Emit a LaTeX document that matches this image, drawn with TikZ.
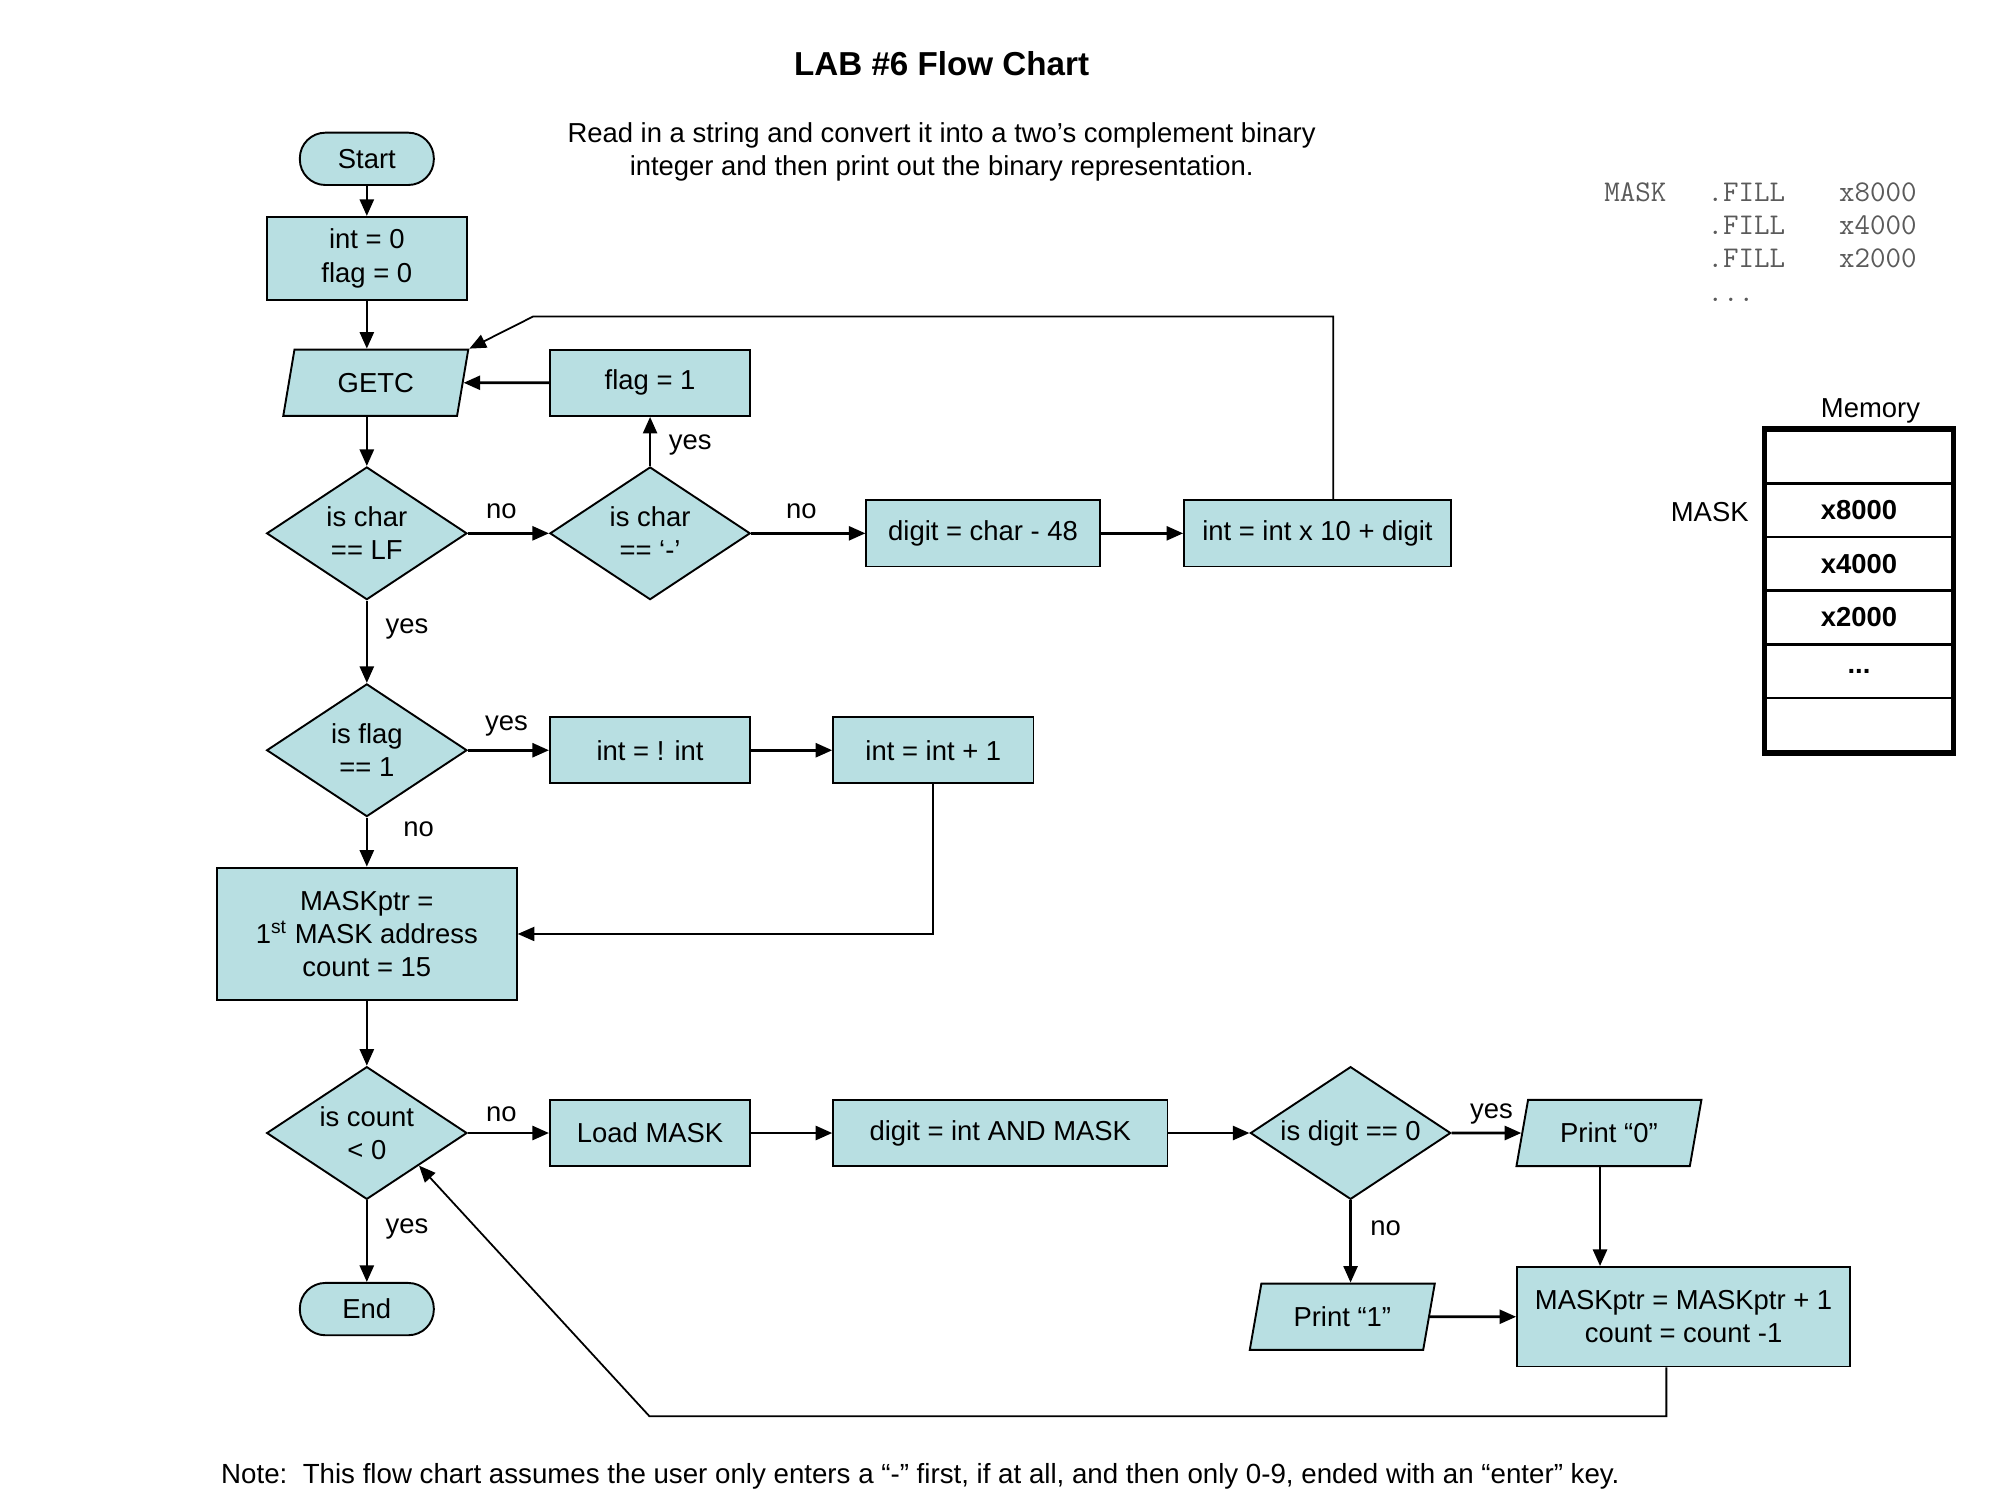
\documentclass[tikz,border=0pt]{standalone}
\usepackage{fontspec}
\setmainfont{Liberation Sans}
\usetikzlibrary{shapes.geometric,arrows.meta,calc}
\definecolor{boxfill}{RGB}{184,223,226}
\definecolor{codegray}{RGB}{90,90,90}
\begin{document}
\begin{tikzpicture}[x=0.5pt,y=-0.5pt,font=\fontsize{10.75}{13}\selectfont,
  base/.style={draw=black,fill=boxfill,line width=0.75pt,align=center,inner sep=0pt},
  proc/.style={base,rectangle},
  term/.style={base,rectangle,rounded corners=10pt,minimum width=52.5pt,minimum height=20.5pt},
  decn/.style={base,diamond,shape aspect=1.5,minimum width=78.5pt,minimum height=52pt},
  io/.style={base,trapezium,trapezium left angle=60,trapezium right angle=120,trapezium stretches body=true,minimum width=72.5pt,minimum height=26pt},
  arr/.style={-{Triangle[length=6.5pt,width=5.5pt]},line width=1pt},
  thinline/.style={line width=0.7pt},
  lbl/.style={inner sep=0pt},
  code/.style={anchor=base west,inner sep=0pt,font=\ttfamily\fontsize{11.8}{13}\selectfont,text=codegray},
  cell/.style={draw=black,line width=1pt,rectangle,minimum width=73pt,minimum height=21pt,inner sep=0pt,font=\bfseries\fontsize{10.75}{13}\selectfont}
]
\useasboundingbox (0,0) rectangle (1567.5,1175.6);

% title and description
\node[font=\bfseries\fontsize{13}{16}\selectfont] (title) at (738,50) {LAB \#6 Flow Chart};
\node[align=center] (desc) at (738,119) {Read in a string and convert it into a two’s complement binary\\integer and then print out the binary representation.};
\node[anchor=west,inner sep=0pt,font=\fontsize{10.85}{13}\selectfont] (note) at (173,1157) {Note:\ \ This flow chart assumes the user only enters a “-” first, if at all, and then only 0-9, ended with an “enter” key.};

% code
\node[code] (c1a) at (1257,158) {MASK};
\node[code] (c1b) at (1338,158) {.FILL};
\node[code] (c1c) at (1441,158) {x8000};
\node[code] (c2b) at (1338,184) {.FILL};
\node[code] (c2c) at (1441,184) {x4000};
\node[code] (c3b) at (1338,210) {.FILL};
\node[code] (c3c) at (1441,210) {x2000};
\node[code] (c4b) at (1338,236) {...};

% memory
\node (memlbl) at (1466,322) {Memory};
\node[cell] (m0) at (1457,358) {};
\node[cell] (m1) at (1457,400) {x8000};
\node[cell] (m2) at (1457,442) {x4000};
\node[cell] (m3) at (1457,484) {x2000};
\node[cell] (m4) at (1457,526) {...};
\node[cell] (m5) at (1457,568) {};
\draw[line width=2.2pt] (m0.north west) rectangle (m5.south east);
\node (masklbl) at (1340,401) {MASK};

% flow chart nodes
\node[term] (start) at (287.5,124.5) {Start};
\node[proc,minimum width=78.5pt,minimum height=32.5pt] (init) at (287.5,202.5) {int = 0\\flag = 0};
\node[io] (getc) at (294.5,300) {GETC};
\node[proc,minimum width=78.5pt,minimum height=26pt] (flag1) at (509.5,300) {flag = 1};
\node[decn] (dec1) at (287.5,418) {is char\\== LF};
\node[decn] (dec2) at (509.5,418) {is char\\== ‘-’};
\node[proc,minimum width=91.5pt,minimum height=26pt] (dsub) at (770.5,418) {digit = char - 48};
\node[proc,minimum width=104.5pt,minimum height=26pt] (mul) at (1032.5,418) {int = int x 10 + digit};
\node[decn] (dec3) at (287.5,588) {is flag\\== 1};
\node[proc,minimum width=78.5pt,minimum height=26pt] (neg) at (509.5,588) {int = ! int};
\node[proc,minimum width=78.5pt,minimum height=26pt] (inc) at (731.5,588) {int = int + 1};
\node[proc,minimum width=117.5pt,minimum height=52pt] (maskp) at (287.5,732) {MASKptr =\\1\textsuperscript{st} MASK address\\count = 15};
\node[decn] (dec4) at (287.5,888) {is count\\< 0};
\node[proc,minimum width=78.5pt,minimum height=26pt] (load) at (509.5,888) {Load MASK};
\node[proc,minimum width=131pt,minimum height=26pt] (dand) at (784,888) {digit = int AND MASK};
\node[decn] (dec5) at (1058.5,888) {is digit == 0};
\node[io] (print0) at (1261,888) {Print “0”};
\node[proc,minimum width=130.5pt,minimum height=39pt] (mp1) at (1319.5,1032) {MASKptr = MASKptr + 1\\count = count -1};
\node[io] (print1) at (1052,1032) {Print “1”};
\node[term] (stop) at (287.5,1026) {End};

% labels
\node[lbl] (l1) at (393,401) {no};
\node[lbl] (l2) at (541,349) {yes};
\node[lbl] (l3) at (628,401) {no};
\node[lbl] (l4) at (319,493) {yes};
\node[lbl] (l5) at (397,569) {yes};
\node[lbl] (l6) at (328,650) {no};
\node[lbl] (l7) at (393,873) {no};
\node[lbl] (l8) at (319,963) {yes};
\node[lbl] (l9) at (1169,873) {yes};
\node[lbl] (l10) at (1086,963) {no};

% connectors
\coordinate (fb) at (418,248);
\coordinate (lp) at (509,1110);
\draw[arr] (start) -- (init);
\draw[arr] (init) -- (init |- getc.north);
\draw[arr] (dec1 |- getc.south) -- (dec1);
\draw[arr] (flag1) -- (getc);
\draw[arr] (dec1) -- (dec2);
\draw[arr] (dec2) -- (flag1);
\draw[arr] (dec2) -- (dsub);
\draw[arr] (dsub) -- (mul);
\draw[arr,thinline] ([xshift=6.25pt]mul.north) |- (fb) -- (getc.top right corner);
\draw[arr] (dec1) -- (dec3);
\draw[arr] (dec3) -- (neg);
\draw[arr] (neg) -- (inc);
\draw[arr,thinline] (inc) |- (maskp);
\draw[arr] (dec3) -- (maskp);
\draw[arr] (maskp) -- (dec4);
\draw[arr] (dec4) -- (load);
\draw[arr] (load) -- (dand);
\draw[arr] (dand) -- (dec5);
\draw[arr] (dec5) -- (print0);
\draw[arr] (dec5) -- (dec5 |- print1.north);
\draw[arr] ([xshift=-3.5pt]print0.south) -- ([xshift=-3.5pt]print0.south |- mp1.north);
\draw[arr] (print1) -- (mp1);
\draw[arr,thinline] ([xshift=-6.75pt]mp1.south) |- (lp) -- ($(dec4.east)!0.484!(dec4.south)$);
\draw[arr] (dec4) -- (stop);
\end{tikzpicture}
\end{document}
